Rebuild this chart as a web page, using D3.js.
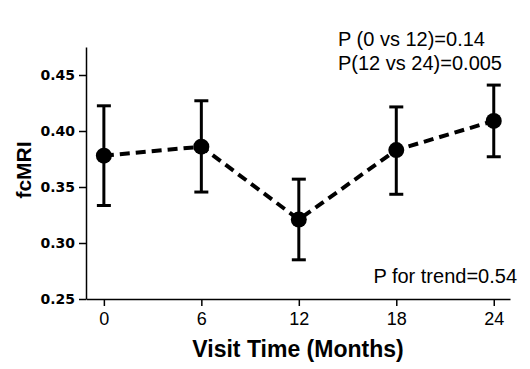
<!DOCTYPE html>
<html><head><meta charset="utf-8">
<script src="https://cdn.jsdelivr.net/npm/d3@7"></script>
<style>body{margin:0;background:#fff}</style>
</head><body>
<svg id="c" width="530" height="369"></svg>
<script>
const months = [0, 6, 12, 18, 24];
const means = [0.378, 0.386, 0.321, 0.383, 0.409];
const upper = [0.4225, 0.427, 0.357, 0.4215, 0.441];
const lower = [0.3335, 0.3455, 0.285, 0.3435, 0.377];
const yTicks = [0.25, 0.30, 0.35, 0.40, 0.45];
const xTicks = [0, 6, 12, 18, 24];
const annotations = ["P (0 vs 12)=0.14", "P(12 vs 24)=0.005", "P for trend=0.54"];
const xTitle = "Visit Time (Months)";
const yTitle = "fcMRI";

const svg = d3.select("#c");
const x = d3.scaleLinear().domain([-1.1, 25]).range([86, 510]);
const y = d3.scaleLinear().domain([0.25, 0.475]).range([299, 47]);

const gx = svg.append("g").attr("transform", "translate(0,299)")
  .call(d3.axisBottom(x).tickValues(xTicks).tickSize(7).tickSizeOuter(0).tickPadding(6));
gx.select(".domain").attr("stroke-width", 1.5);
gx.selectAll(".tick line").attr("stroke-width", 1.5);
gx.selectAll(".tick text").attr("font-family", "Liberation Sans, Arial, sans-serif").attr("font-size", 18).attr("fill", "#000");

const gy = svg.append("g").attr("transform", "translate(86,0)")
  .call(d3.axisLeft(y).tickValues(yTicks).tickFormat(d3.format(".2f")).tickSize(7).tickSizeOuter(0).tickPadding(4));
gy.select(".domain").attr("stroke-width", 1.5);
gy.selectAll(".tick line").attr("stroke-width", 1.5);
gy.selectAll(".tick text").attr("font-family", "DejaVu Sans, Verdana, sans-serif").attr("font-weight", "bold").attr("font-size", 14).attr("fill", "#000");

const pts = months.map((m, i) => ({m, v: means[i], hi: upper[i], lo: lower[i]}));

svg.append("path").datum(pts)
  .attr("d", d3.line().x(d => x(d.m)).y(d => y(d.v)))
  .attr("fill", "none").attr("stroke", "#000").attr("stroke-width", 4).attr("stroke-dasharray", "10,6");

const eb = svg.append("g").attr("stroke", "#000").attr("stroke-width", 3);
pts.forEach(d => {
  eb.append("line").attr("x1", x(d.m)).attr("x2", x(d.m)).attr("y1", y(d.hi)).attr("y2", y(d.lo));
  eb.append("line").attr("x1", x(d.m) - 7).attr("x2", x(d.m) + 7).attr("y1", y(d.hi)).attr("y2", y(d.hi));
  eb.append("line").attr("x1", x(d.m) - 7).attr("x2", x(d.m) + 7).attr("y1", y(d.lo)).attr("y2", y(d.lo));
});

svg.append("g").selectAll("circle").data(pts).join("circle")
  .attr("cx", d => x(d.m)).attr("cy", d => y(d.v)).attr("r", 8).attr("fill", "#000");

const af = "Liberation Sans, Arial, sans-serif";
svg.append("text").attr("x", 338).attr("y", 46).attr("font-family", af).attr("font-size", 20).text(annotations[0]);
svg.append("text").attr("x", 338).attr("y", 70).attr("font-family", af).attr("font-size", 20).text(annotations[1]);
svg.append("text").attr("x", 517).attr("y", 283).attr("text-anchor", "end").attr("font-family", af).attr("font-size", 20).text(annotations[2]);

svg.append("text").attr("x", 298).attr("y", 357).attr("text-anchor", "middle")
  .attr("font-family", af).attr("font-weight", "bold").attr("font-size", 23).text(xTitle);
svg.append("text").attr("transform", "translate(31,170) rotate(-90)").attr("text-anchor", "middle")
  .attr("font-family", af).attr("font-weight", "bold").attr("font-size", 21).text(yTitle);
</script>
</body></html>
